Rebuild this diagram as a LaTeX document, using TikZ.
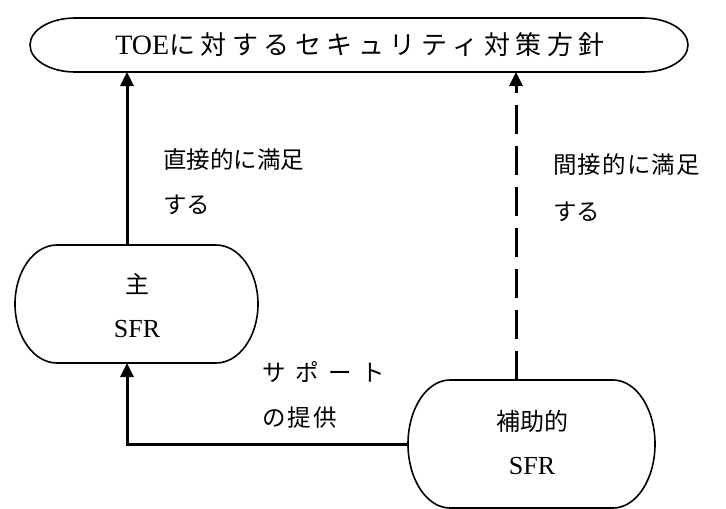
\documentclass[tikz,border=0pt]{standalone}
\usepackage{fontspec}
\setmainfont{Liberation Serif}
\newfontfamily\jp{Noto Sans CJK JP}
\usetikzlibrary{arrows.meta,calc}
\newcommand\capsule[3]{%
  \draw[outline] ($(#1.north west)+(#2,0)$) -- ($(#1.north east)-(#2,0)$)
    arc[start angle=90, end angle=-90, x radius=#2pt, y radius=#3pt]
    -- ($(#1.south west)+(#2,0)$)
    arc[start angle=270, end angle=90, x radius=#2pt, y radius=#3pt] -- cycle;}
\newcommand\tsp{\hspace{5.5pt}}
\begin{document}
\begin{tikzpicture}[x=1pt,y=-1pt,
  box/.style={inner sep=0pt, outer sep=0pt},
  outline/.style={line width=1.6pt},
  conn/.style={line width=3pt, -{Triangle[length=14pt,width=13pt]}},
  dashconn/.style={conn, dash pattern=on 29pt off 12pt},
  lbl/.style={anchor=west, inner sep=0pt, font=\jp\fontsize{23.5}{28}\selectfont},
  jtxt/.style={inner sep=0pt, font=\jp\fontsize{24}{28}\selectfont},
  ltxt/.style={inner sep=0pt, font=\fontsize{26}{30}\selectfont}]
\useasboundingbox (0,0) rectangle (726,509);
% boxes
\node[box, minimum width=658pt, minimum height=54pt] (toe) at (359,45) {};
\node[box, minimum width=243pt, minimum height=118pt] (main) at (136.5,304) {};
\node[box, minimum width=247pt, minimum height=128pt] (aux) at (531.5,444) {};
\capsule{toe}{45}{27}
\capsule{main}{42}{59}
\capsule{aux}{42}{64}
% texts
\node[inner sep=0pt, font=\fontsize{28}{30}\selectfont] (toetext) at (360,45)
  {TOE{\jp\fontsize{26}{28}\selectfont に\tsp 対\tsp す\tsp る\tsp セ\tsp キ\tsp ュ\tsp リ\tsp テ\tsp ィ\tsp 対\tsp 策\tsp 方\tsp 針}};
\node[jtxt] (maintxt) at (137,284) {主};
\node[ltxt] (mainsfr) at (137,329) {SFR};
\node[jtxt] (auxtxt) at (532,421) {補助的};
\node[ltxt] (auxsfr) at (532,466) {SFR};
% labels
\node[lbl] (l1a) at (163,160) {直接的に満足};
\node[lbl] (l1b) at (163,205) {する};
\node[lbl] (l2a) at (553,165) {間\hspace{1.2pt}接\hspace{1.2pt}的\hspace{1.2pt}に\hspace{1.2pt}満\hspace{1.2pt}足};
\node[lbl] (l2b) at (553,212) {する};
\node[lbl] (l3a) at (262,372) {サ\hspace{9.5pt}ポ\hspace{9.5pt}ー\hspace{9.5pt}ト};
\node[lbl] (l3b) at (262,418) {の\hspace{2pt}提\hspace{2pt}供};
% connectors
\draw[conn] ([xshift=-9.5pt]main.north) -- ([xshift=-9.5pt]main.north |- toe.south);
\draw[dashconn] ([xshift=-15.5pt]aux.north) -- ([xshift=-15.5pt]aux.north |- toe.south);
\draw[conn] (aux.west) -| ([xshift=-9.5pt]main.south);
\end{tikzpicture}
\end{document}
